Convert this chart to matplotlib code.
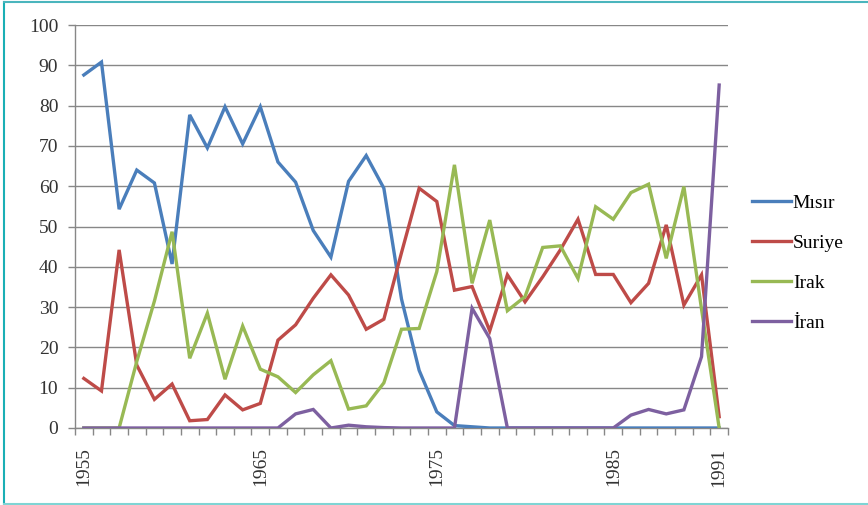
import matplotlib
matplotlib.use("Agg")
import matplotlib.pyplot as plt
from matplotlib.lines import Line2D
import numpy as np

years = list(range(1955, 1992))
misir = [87.6, 90.8, 54.3, 64.0, 60.8, 40.7, 77.7, 69.5, 79.7, 70.5, 79.7, 66.0, 61.0,
         49.0, 42.4, 61.2, 67.6, 59.5, 32.0, 14.3, 4.0, 0.6, 0.3, 0, 0, 0, 0, 0, 0, 0,
         0, 0, 0, 0, 0, 0, 0]
suriye = [12.3, 9.2, 44.2, 15.6, 7.1, 10.9, 1.8, 2.1, 8.2, 4.5, 6.1, 21.8, 25.6, 32.2,
          38.0, 33.0, 24.5, 27.0, 43.5, 59.5, 56.2, 34.2, 35.1, 24.1, 38.0, 31.3, 37.5,
          44.2, 51.8, 38.1, 38.1, 31.1, 35.9, 50.4, 30.5, 38.0, 2.8]
irak = [0, 0, 0, 16.5, 31.5, 48.7, 17.3, 28.5, 12.1, 25.3, 14.6, 12.7, 8.8, 13.2, 16.7,
        4.7, 5.5, 11.2, 24.5, 24.7, 38.8, 65.3, 35.9, 51.6, 29.1, 32.6, 44.8, 45.2, 37.1,
        54.9, 51.8, 58.4, 60.5, 42.1, 59.9, 29.5, 0]
iran = [0, 0, 0, 0, 0, 0, 0, 0, 0, 0, 0, 0, 3.5, 4.6, 0, 0.7, 0.3, 0.1, 0, 0, 0, 0,
        29.7, 22.2, 0, 0, 0, 0, 0, 0, 0, 3.2, 4.6, 3.5, 4.5, 17.7, 85.1]
series_names = ["Mısır", "Suriye", "Irak", "İran"]
colors = ["#4A7EBB", "#BE4B48", "#98B954", "#7D60A0"]
xtick_years = [1955, 1965, 1975, 1985, 1991]

plt.rcParams['font.family'] = ['Liberation Serif', 'DejaVu Serif']

fig = plt.figure(figsize=(8.68, 5.05), dpi=100)
ax = fig.add_axes([75/868, 77/505, 653/868, 403/505])

x = np.arange(len(years))
order = [3, 0, 1, 2]
for i in order:
    data = [misir, suriye, irak, iran][i]
    ax.plot(x, data, color=colors[i], lw=2.4, solid_joinstyle='miter', zorder=3 + i)

ax.set_xlim(-0.5, len(years) - 0.5)
ax.set_ylim(0, 100)
ax.set_yticks(np.arange(0, 101, 10))
ax.yaxis.grid(True, color="#878787", lw=1.0)
ax.set_axisbelow(True)
ax.tick_params(axis='y', length=5, width=1, color="#878787", pad=7, labelsize=14, labelcolor="#333333")

ax.set_xticks([years.index(y) for y in xtick_years])
ax.set_xticklabels([str(y) for y in xtick_years], rotation=90, fontsize=14, color="#333333")
ax.set_xticks(np.arange(-0.5, len(years), 1.0), minor=True)
ax.tick_params(axis='x', which='major', length=0, pad=14)
ax.tick_params(axis='x', which='minor', length=5, width=1, color="#878787")

for s in ['top', 'right']:
    ax.spines[s].set_visible(False)
for s in ['left', 'bottom']:
    ax.spines[s].set_color("#878787")
    ax.spines[s].set_linewidth(1.0)

leg_handles = [Line2D([], [], color=colors[i], lw=2.4) for i in range(4)]
fig.legend(leg_handles, series_names, loc='upper left', bbox_to_anchor=(752/868, 1 - 194/505),
           frameon=False, fontsize=14, handlelength=2.0, handletextpad=0.1, labelspacing=1.15,
           borderaxespad=0, borderpad=0)

# teal frame
fig.add_artist(Line2D([4/868, 4/868], [1.5/505, 1 - 2/505], transform=fig.transFigure, color="#1AAFB5", lw=1.5))
fig.add_artist(Line2D([4/868, 1], [1 - 2/505, 1 - 2/505], transform=fig.transFigure, color="#4BB5BD", lw=1.5))
fig.add_artist(Line2D([4/868, 1], [1.5/505, 1.5/505], transform=fig.transFigure, color="#7FD4D4", lw=1.5))

fig.savefig("out.png", dpi=100, facecolor="white")
